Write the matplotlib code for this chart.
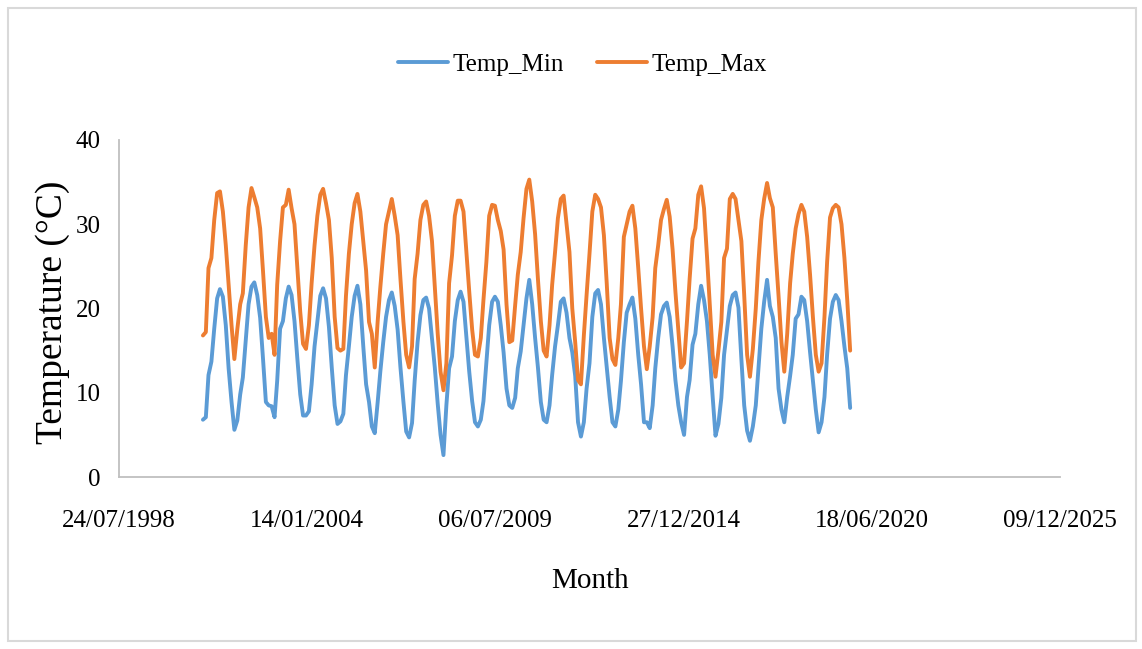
import matplotlib
matplotlib.use("Agg")
import matplotlib.pyplot as plt
import matplotlib.dates as mdates
from matplotlib.patches import Rectangle
import pandas as pd

plt.rcParams['font.family'] = ['Liberation Serif', 'DejaVu Serif']

# monthly values Jan 2001 .. Nov 2019
months = pd.date_range("2001-01-01", "2019-11-01", freq="MS")

temp_min = [
    6.8, 7.1, 12.1, 13.7, 17.6, 21.2, 22.3, 21.4, 18.0, 12.9, 8.9, 5.6,    # 2001
    6.7, 9.8, 11.8, 16.2, 20.5, 22.6, 23.1, 21.6, 18.9, 14.1, 8.9, 8.5,    # 2002
    8.4, 7.1, 11.4, 17.6, 18.5, 21.2, 22.6, 21.6, 18.5, 14.1, 9.8, 7.3,    # 2003
    7.3, 7.8, 11.0, 15.5, 18.5, 21.5, 22.4, 21.2, 17.8, 13.0, 8.5, 6.3,    # 2004
    6.6, 7.5, 12.1, 15.5, 19.0, 21.5, 22.7, 20.5, 15.5, 11.0, 8.9, 6.0,    # 2005
    5.2, 8.9, 12.5, 16.0, 19.0, 21.0, 21.9, 20.3, 17.5, 13.0, 9.0, 5.4,    # 2006
    4.7, 6.4, 11.4, 16.0, 19.2, 21.0, 21.3, 20.0, 16.5, 13.0, 8.7, 5.0,    # 2007
    2.6, 8.5, 12.9, 14.3, 18.5, 21.0, 22.0, 20.8, 16.5, 12.5, 9.0, 6.5,    # 2008
    6.0, 6.8, 9.0, 13.5, 18.0, 20.8, 21.4, 20.8, 18.0, 14.8, 10.5, 8.5,    # 2009
    8.2, 9.4, 12.9, 14.9, 18.0, 21.2, 23.4, 20.5, 16.5, 13.0, 8.9, 6.8,    # 2010
    6.5, 8.5, 12.1, 15.5, 18.0, 20.8, 21.2, 19.5, 16.5, 14.8, 12.0, 6.5,   # 2011
    4.8, 6.5, 10.5, 13.5, 19.0, 21.8, 22.2, 20.5, 16.5, 13.0, 9.5, 6.5,    # 2012
    6.0, 8.0, 11.4, 16.0, 19.5, 20.5, 21.3, 18.8, 14.5, 11.0, 6.5, 6.5,    # 2013
    5.8, 8.5, 12.9, 16.5, 19.3, 20.3, 20.7, 19.0, 15.5, 11.5, 8.5, 6.5,    # 2014
    5.0, 9.5, 11.5, 15.7, 17.0, 20.5, 22.7, 21.0, 18.5, 14.5, 9.5, 4.9,    # 2015
    6.3, 9.4, 14.5, 17.5, 20.3, 21.6, 21.9, 20.1, 14.0, 8.5, 5.5, 4.3,     # 2016
    6.0, 8.5, 12.9, 17.6, 20.8, 23.4, 20.3, 19.0, 16.5, 10.5, 8.0, 6.5,    # 2017
    9.5, 12.0, 14.5, 18.8, 19.3, 21.4, 21.0, 18.5, 14.8, 11.5, 8.0, 5.3,   # 2018
    6.5, 9.5, 14.5, 18.8, 20.8, 21.6, 21.0, 18.5, 15.5, 12.9, 8.2,         # 2019
]

temp_max = [
    16.8, 17.2, 24.8, 26.0, 30.5, 33.7, 33.9, 31.5, 27.5, 22.8, 18.0, 14.0,  # 2001
    17.5, 20.5, 21.8, 27.5, 32.0, 34.3, 33.2, 32.0, 29.5, 24.5, 19.0, 16.5,  # 2002
    17.0, 14.5, 22.8, 28.0, 32.0, 32.3, 34.1, 31.9, 30.0, 24.8, 19.6, 15.8,  # 2003
    15.2, 18.0, 23.0, 27.5, 31.0, 33.5, 34.2, 32.5, 30.5, 26.0, 19.0, 15.3,  # 2004
    15.0, 15.2, 21.5, 26.5, 30.0, 32.5, 33.6, 31.5, 28.0, 24.5, 18.4, 17.0,  # 2005
    13.0, 18.5, 22.5, 26.5, 30.0, 31.5, 33.0, 31.0, 28.7, 23.5, 18.5, 14.5,  # 2006
    13.0, 15.5, 23.5, 26.5, 30.5, 32.3, 32.7, 31.0, 28.0, 22.5, 17.0, 12.5,  # 2007
    10.3, 13.5, 23.0, 26.3, 31.0, 32.8, 32.8, 31.5, 26.7, 22.0, 17.5, 14.5,  # 2008
    14.3, 16.5, 21.0, 25.5, 31.0, 32.3, 32.2, 30.5, 29.2, 27.0, 20.5, 16.0,  # 2009
    16.2, 20.4, 24.0, 26.7, 30.7, 34.2, 35.3, 32.7, 28.8, 23.5, 18.5, 15.0,  # 2010
    14.3, 18.0, 22.8, 26.7, 30.7, 33.0, 33.4, 30.0, 26.7, 20.0, 16.0, 11.5,  # 2011
    11.0, 16.8, 21.6, 26.5, 31.5, 33.5, 33.0, 32.0, 28.7, 23.0, 16.5, 14.0,  # 2012
    13.3, 16.5, 20.5, 28.5, 30.0, 31.5, 32.2, 29.5, 24.8, 20.0, 15.5, 12.8,  # 2013
    15.5, 19.0, 24.8, 27.5, 30.5, 31.8, 32.9, 30.9, 27.0, 22.0, 17.5, 13.0,  # 2014
    13.5, 18.5, 23.5, 28.3, 29.5, 33.5, 34.5, 31.9, 26.3, 20.5, 14.5, 11.9,  # 2015
    15.0, 18.4, 26.0, 27.1, 33.0, 33.6, 33.0, 30.5, 28.0, 21.6, 14.5, 11.9,  # 2016
    15.2, 20.0, 25.5, 30.5, 33.0, 34.9, 33.1, 32.0, 26.5, 21.5, 16.0, 12.5,  # 2017
    17.0, 23.0, 26.5, 29.5, 31.2, 32.3, 31.5, 28.5, 24.0, 19.0, 14.5, 12.5,  # 2018
    13.5, 19.0, 25.5, 30.8, 31.9, 32.3, 32.0, 30.0, 26.0, 21.0, 15.0,        # 2019
]

fig = plt.figure(figsize=(11.42, 6.49), dpi=100)
ax = fig.add_axes([0.1042, 0.265, 0.824, 0.5193])

ax.plot(months, temp_min, color="#5B9BD5", lw=2.8, label="Temp_Min",
        solid_joinstyle="round", solid_capstyle="round")
ax.plot(months, temp_max, color="#ED7D31", lw=2.8, label="Temp_Max",
        solid_joinstyle="round", solid_capstyle="round")

# excel-style date axis, major unit 2000 days
start = pd.Timestamp("1998-07-24")
ticks = [start + pd.Timedelta(days=2000 * k) for k in range(6)]
ax.set_xlim(ticks[0], ticks[-1])
ax.set_xticks(ticks)
ax.xaxis.set_major_formatter(mdates.DateFormatter("%d/%m/%Y"))
ax.set_ylim(0, 40)
ax.set_yticks([0, 10, 20, 30, 40])

for s in ["top", "right"]:
    ax.spines[s].set_visible(False)
for s in ["left", "bottom"]:
    ax.spines[s].set_color("#bfbfbf")
    ax.spines[s].set_linewidth(1.3)

ax.tick_params(length=0, labelsize=18)
ax.tick_params(axis="x", pad=24)
ax.tick_params(axis="y", pad=13)

ax.set_xlabel("Month", fontsize=21)
ax.xaxis.set_label_coords(0.5, -0.31)
ax.xaxis.label.set_va("center")
ax.set_ylabel("Temperature (°C)", fontsize=27)
ax.yaxis.set_label_coords(-0.07, 0.49)
ax.yaxis.label.set_va("center")

fig.legend(loc="center", bbox_to_anchor=(0.51, 0.9), ncol=2, frameon=False,
           fontsize=18, handlelength=2.0, columnspacing=1.3, handletextpad=0.2)

fig.patches.append(Rectangle((0.007, 0.0123), 0.9877, 0.9754, transform=fig.transFigure,
                             fill=False, edgecolor="#d9d9d9", lw=1.5))

fig.savefig("out.png", dpi=100)
